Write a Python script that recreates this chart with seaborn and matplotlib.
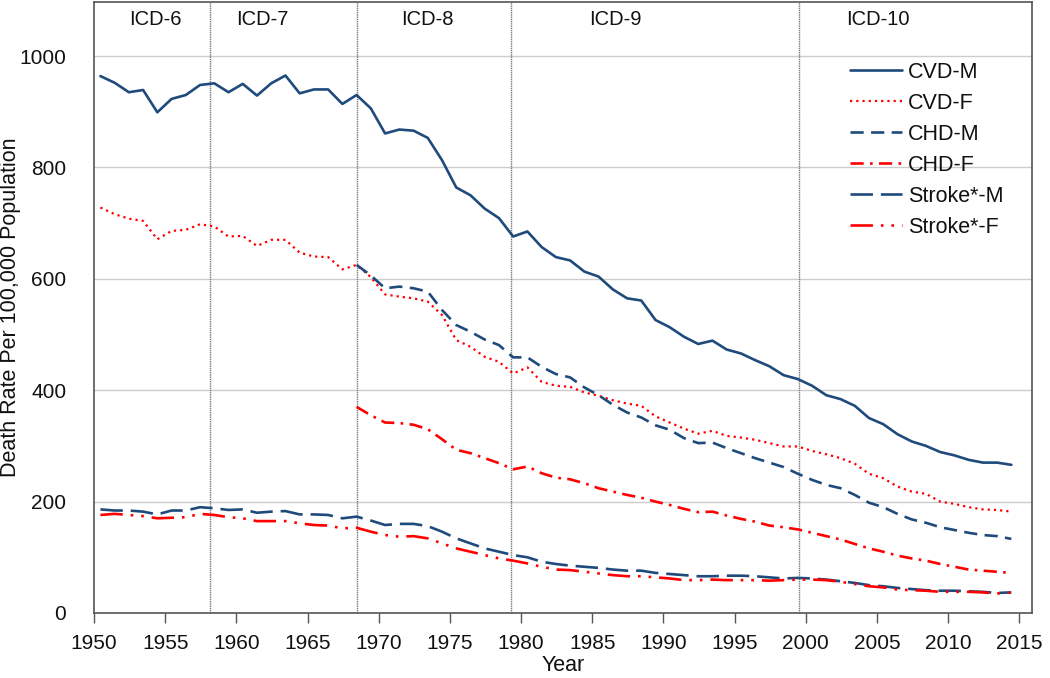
import pandas as pd
import matplotlib
matplotlib.use("Agg")
import matplotlib.pyplot as plt
import seaborn as sns

# Years of data (1950-2014) and the CHD series that start in 1968
years = list(range(1950, 2015))
chd_years = list(range(1968, 2015))

cvd_m = [964, 952, 935, 939, 899, 923, 930, 948, 951, 935,
         950, 929, 951, 965, 933, 940, 940, 914, 930, 906,
         861, 868, 866, 853, 813, 764, 750, 726, 709, 676,
         685, 657, 639, 633, 613, 604, 581, 565, 561, 526,
         513, 496, 483, 489, 473, 466, 454, 443, 427, 420,
         408, 391, 384, 372, 350, 339, 321, 308, 300, 289,
         283, 275, 270, 270, 266]
cvd_f = [728, 716, 708, 704, 671, 686, 688, 698, 694, 676,
         677, 659, 670, 670, 647, 640, 639, 617, 625, 603,
         572, 568, 565, 559, 535, 490, 478, 460, 451, 430,
         441, 415, 408, 406, 396, 390, 382, 376, 372, 353,
         342, 331, 322, 327, 318, 315, 311, 305, 299, 299,
         291, 285, 278, 268, 250, 242, 227, 218, 214, 200,
         196, 190, 186, 185, 182]
chd_m = [625, 606,
         583, 586, 583, 577, 544, 517, 505, 491, 481, 459,
         459, 442, 429, 423, 405, 391, 374, 360, 351, 337,
         329, 314, 305, 306, 296, 287, 278, 270, 262, 250,
         239, 230, 224, 212, 198, 190, 178, 168, 162, 154,
         149, 144, 140, 138, 133]
chd_f = [370, 355,
         342, 341, 338, 330, 312, 293, 287, 278, 269, 258,
         263, 251, 243, 240, 233, 224, 218, 212, 207, 200,
         194, 187, 181, 182, 175, 169, 164, 157, 154, 150,
         144, 138, 132, 124, 116, 110, 103, 98, 94, 88,
         83, 78, 76, 74, 72]
stroke_m = [186, 184, 184, 182, 177, 184, 184, 190, 188, 185,
            186, 180, 182, 183, 177, 177, 176, 170, 173, 166,
            158, 160, 160, 156, 146, 134, 125, 116, 110, 104,
            100, 92, 88, 85, 83, 81, 78, 76, 76, 72,
            70, 68, 66, 66, 67, 67, 66, 64, 62, 63,
            62, 60, 57, 54, 50, 48, 45, 43, 41, 40,
            40, 39, 38, 36, 37]
stroke_f = [176, 178, 176, 174, 170, 171, 172, 178, 176, 172,
            170, 165, 165, 165, 161, 158, 157, 152, 153, 146,
            140, 137, 138, 134, 125, 116, 110, 104, 98, 94,
            89, 83, 78, 77, 74, 71, 68, 66, 66, 64,
            62, 59, 59, 60, 59, 59, 59, 58, 59, 60,
            60, 59, 56, 52, 48, 46, 42, 41, 40, 38,
            38, 38, 37, 35, 37]

# ICD revision boundaries and label positions
icd_bounds = [1958.15, 1968.45, 1979.3, 1999.5]
icd_labels = ["ICD-6", "ICD-7", "ICD-8", "ICD-9", "ICD-10"]
icd_label_x = [1954.3, 1961.8, 1973.4, 1986.6, 2005.1]

navy = "#1f4a7c"
red = "#ff0000"
offset = 0.45  # points sit mid-category like the original spreadsheet chart

sns.set_style("white")
plt.rcParams["font.family"] = ["Liberation Sans", "DejaVu Sans"]
plt.rcParams["text.color"] = "#111111"
plt.rcParams["axes.labelcolor"] = "#111111"
plt.rcParams["xtick.color"] = "#111111"
plt.rcParams["ytick.color"] = "#111111"

fig = plt.figure(figsize=(10.5, 6.78), dpi=100)
ax = fig.add_axes([94 / 1050, 65 / 678, 938 / 1050, 611 / 678])

series = [
    ("CVD-M", years, cvd_m, navy, "-", 1.9),
    ("CVD-F", years, cvd_f, red, (0, (1, 1.8)), 1.6),
    ("CHD-M", chd_years, chd_m, navy, (0, (5, 2.8)), 1.9),
    ("CHD-F", chd_years, chd_f, red, (0, (5, 2.4, 1, 2.4)), 1.9),
    ("Stroke*-M", years, stroke_m, navy, (0, (8.5, 3)), 1.9),
    ("Stroke*-F", years, stroke_f, red, (0, (8.5, 3, 1, 3, 1, 3)), 1.9),
]
for name, xs, ys, col, ls, lw in series:
    sns.lineplot(x=[x + offset for x in xs], y=ys, ax=ax, color=col,
                 linestyle=ls, linewidth=lw, label=name)

for b in icd_bounds:
    ax.axvline(b, color="#7a7a7a", lw=1.0, ls=(0, (1, 0.6)), zorder=1)
for lab, lx in zip(icd_labels, icd_label_x):
    ax.text(lx, 1065, lab, ha="center", va="center", fontsize=14.5)

ax.set_xlim(1950, 2015.9)
ax.set_ylim(0, 1097)
ax.set_xticks(range(1950, 2016, 5))
ax.set_yticks(range(0, 1001, 200))
ax.yaxis.grid(True, color="#cccccc", lw=1)
ax.xaxis.grid(False)
ax.set_axisbelow(True)
for s in ax.spines.values():
    s.set_color("#555555")
    s.set_linewidth(1.2)
ax.tick_params(axis="x", direction="out", length=7, width=1, color="#555555",
               labelsize=15, pad=8, bottom=True)
ax.tick_params(axis="y", length=0, labelsize=15, pad=20)
ax.set_xlabel("Year", fontsize=15.5)
ax.set_ylabel("Death Rate Per 100,000 Population", fontsize=15.5)
ax.xaxis.set_label_coords(0.5, -0.068)
ax.yaxis.set_label_coords(-0.078, 0.5)

ax.legend(loc="upper left", bbox_to_anchor=(850 / 1050, 1 - 62 / 678),
          bbox_transform=fig.transFigure, frameon=False, fontsize=15.5,
          handlelength=2.4, handletextpad=0.3, labelspacing=0.46,
          borderpad=0, borderaxespad=0)

fig.savefig("out.png", dpi=100)
